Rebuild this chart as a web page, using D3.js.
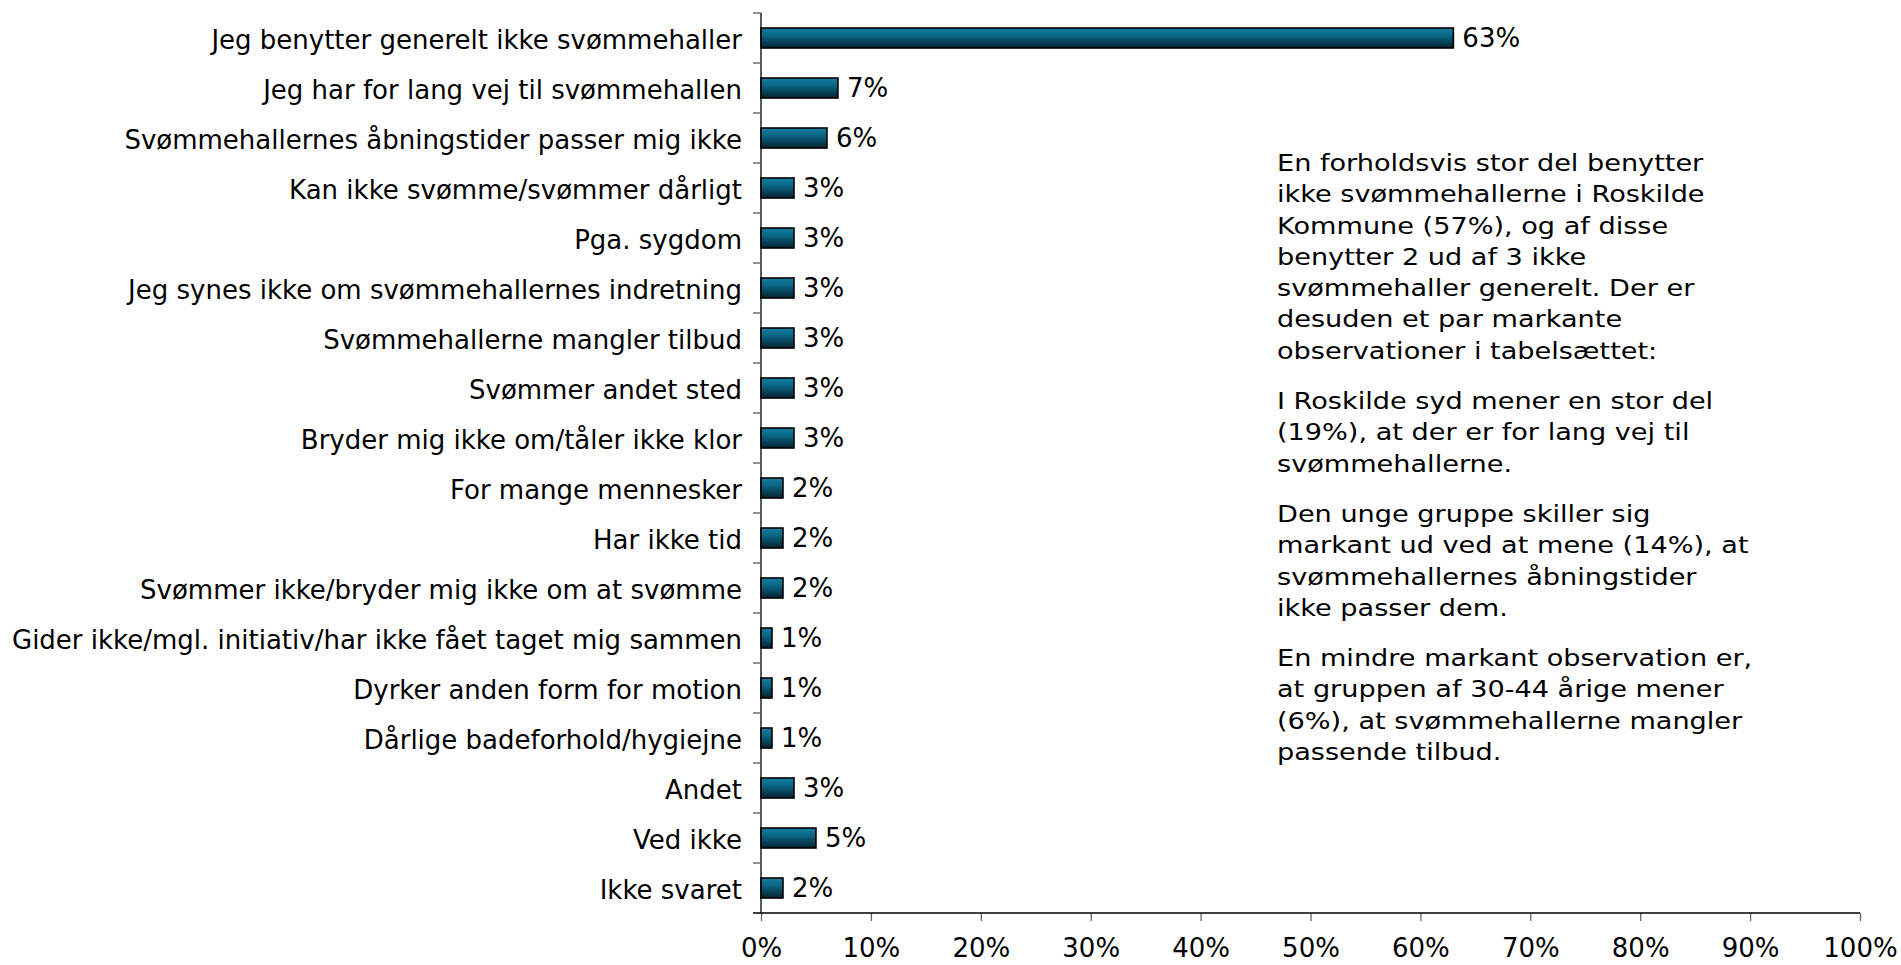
<!DOCTYPE html>
<html lang="da">
<head>
<meta charset="utf-8">
<title>Årsager til ikke at benytte svømmehallerne</title>
<script src="https://cdn.jsdelivr.net/npm/d3@7"></script>
<style>
  html, body { margin: 0; padding: 0; background: #ffffff; }
  svg { display: block; }
  .cat-label, .val-label, .x-axis text { font-family: "DejaVu Sans", Verdana, sans-serif; font-size: 26px; fill: #000; }
  .note { font-family: "DejaVu Sans", Verdana, sans-serif; font-size: 23px; fill: #000; }
</style>
</head>
<body>
<svg id="chart" width="1901" height="965"></svg>
<script>
// Reasons given for not using the municipal swimming pools (share of respondents)
const categories = [
  "Jeg benytter generelt ikke svømmehaller",
  "Jeg har for lang vej til svømmehallen",
  "Svømmehallernes åbningstider passer mig ikke",
  "Kan ikke svømme/svømmer dårligt",
  "Pga. sygdom",
  "Jeg synes ikke om svømmehallernes indretning",
  "Svømmehallerne mangler tilbud",
  "Svømmer andet sted",
  "Bryder mig ikke om/tåler ikke klor",
  "For mange mennesker",
  "Har ikke tid",
  "Svømmer ikke/bryder mig ikke om at svømme",
  "Gider ikke/mgl. initiativ/har ikke fået taget mig sammen",
  "Dyrker anden form for motion",
  "Dårlige badeforhold/hygiejne",
  "Andet",
  "Ved ikke",
  "Ikke svaret"
];
const values = [0.63, 0.07, 0.06, 0.03, 0.03, 0.03, 0.03, 0.03, 0.03, 0.02, 0.02, 0.02, 0.01, 0.01, 0.01, 0.03, 0.05, 0.02];
const xTicks = [0, 0.1, 0.2, 0.3, 0.4, 0.5, 0.6, 0.7, 0.8, 0.9, 1.0];

// Commentary shown beside the chart, one array of lines per paragraph
const notes = [
  ["En forholdsvis stor del benytter",
   "ikke svømmehallerne i Roskilde",
   "Kommune (57%), og af disse",
   "benytter 2 ud af 3 ikke",
   "svømmehaller generelt. Der er",
   "desuden et par markante",
   "observationer i tabelsættet:"],
  ["I Roskilde syd mener en stor del",
   "(19%), at der er for lang vej til",
   "svømmehallerne."],
  ["Den unge gruppe skiller sig",
   "markant ud ved at mene (14%), at",
   "svømmehallernes åbningstider",
   "ikke passer dem."],
  ["En mindre markant observation er,",
   "at gruppen af 30-44 årige mener",
   "(6%), at svømmehallerne mangler",
   "passende tilbud."]
];

const svg = d3.select("#chart");
const pct = d3.format(".0%");

const x = d3.scaleLinear().domain([0, 1]).range([761, 1860]);
const y = d3.scaleBand().domain(categories).range([13, 913])
  .paddingInner(0.6).paddingOuter(0.3);

// Bar fill: lighter teal on top fading to a dark petrol at the bottom
const defs = svg.append("defs");
const grad = defs.append("linearGradient").attr("id", "barFill")
  .attr("x1", 0).attr("y1", 0).attr("x2", 0).attr("y2", 1);
grad.append("stop").attr("offset", "0%").attr("stop-color", "#137fa4");
grad.append("stop").attr("offset", "35%").attr("stop-color", "#0b6887");
grad.append("stop").attr("offset", "100%").attr("stop-color", "#032331");

// Bars
svg.append("g").selectAll("rect")
  .data(categories)
  .join("rect")
  .attr("x", x(0))
  .attr("y", d => y(d))
  .attr("width", (d, i) => x(values[i]) - x(0))
  .attr("height", y.bandwidth())
  .attr("fill", "url(#barFill)")
  .attr("stroke", "#000")
  .attr("stroke-width", 1.6);

// Value labels at the end of each bar
svg.append("g").selectAll("text")
  .data(categories)
  .join("text")
  .attr("class", "val-label")
  .attr("x", (d, i) => x(values[i]) + 9)
  .attr("y", d => y(d) + y.bandwidth() / 2)
  .attr("dy", "0.36em")
  .text((d, i) => pct(values[i]));

// Category axis: vertical line with ticks between the categories
const gap = (y.step() - y.bandwidth()) / 2;
const yAxis = svg.append("g").attr("class", "y-axis");
yAxis.append("line")
  .attr("x1", x(0)).attr("x2", x(0))
  .attr("y1", y(categories[0]) - gap).attr("y2", y.range()[1])
  .attr("stroke", "#000").attr("stroke-width", 1.3);
yAxis.selectAll("line.tick")
  .data(categories)
  .join("line")
  .attr("class", "tick")
  .attr("x1", x(0) - 8).attr("x2", x(0))
  .attr("y1", d => y(d) - gap).attr("y2", d => y(d) - gap)
  .attr("stroke", "#555").attr("stroke-width", 1.3);
yAxis.selectAll("text")
  .data(categories)
  .join("text")
  .attr("class", "cat-label")
  .attr("x", x(0) - 19)
  .attr("y", d => y(d) + y.bandwidth() / 2)
  .attr("dy", "0.42em")
  .attr("text-anchor", "end")
  .text(d => d);

// Value axis along the bottom
const xAxis = svg.append("g").attr("class", "x-axis")
  .attr("transform", `translate(0,${y.range()[1]})`)
  .call(d3.axisBottom(x).tickValues(xTicks).tickFormat(pct).tickSize(8).tickPadding(18));
xAxis.select(".domain").remove();
xAxis.selectAll(".tick line").attr("stroke", "#666").attr("stroke-width", 1.3);
xAxis.append("line")
  .attr("x1", x(0) - 8).attr("x2", x(1))
  .attr("y1", 0).attr("y2", 0)
  .attr("stroke", "#000").attr("stroke-width", 1.3);

// Commentary text block (set slightly wide)
const noteG = svg.append("g").attr("class", "notes")
  .attr("transform", "translate(1277,0) scale(1.18,1)");
const lineH = 31.3, paraGap = 19;
let baseY = 171;
notes.forEach(para => {
  const t = noteG.append("text").attr("class", "note");
  para.forEach((line, j) => {
    t.append("tspan").attr("x", 0).attr("y", baseY + j * lineH).text(line);
  });
  baseY += para.length * lineH + paraGap;
});
</script>
</body>
</html>
